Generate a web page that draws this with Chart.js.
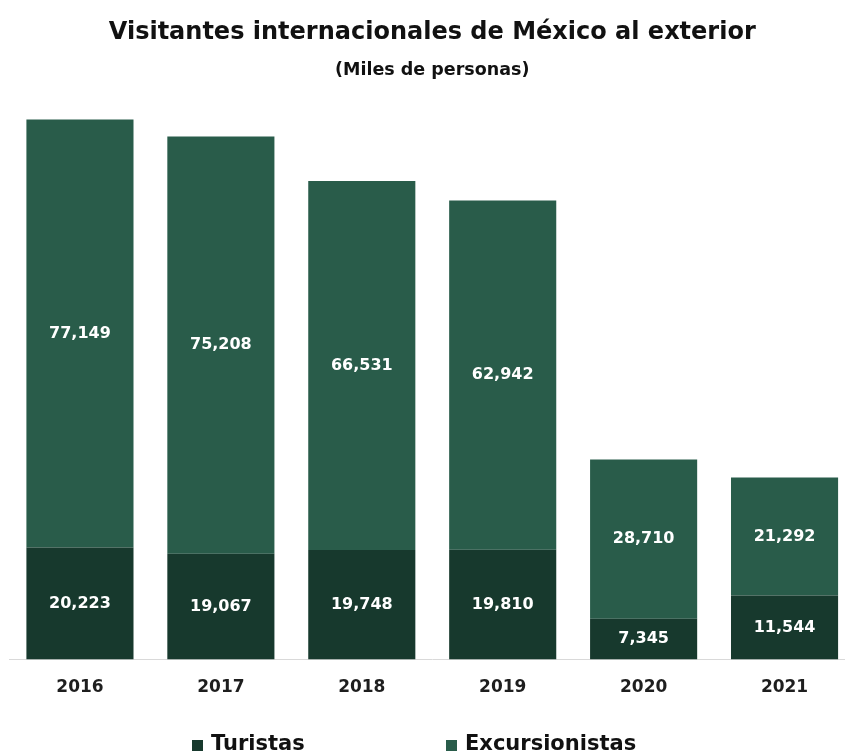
<!DOCTYPE html>
<html>
<head>
<meta charset="utf-8">
<script src="https://cdn.jsdelivr.net/npm/chart.js@4.4.1/dist/chart.umd.min.js"></script>
<style>
  html, body { margin: 0; padding: 0; background: #fff; overflow: hidden; }
  #wrap { width: 860px; height: 753px; position: relative; }
</style>
</head>
<body>
<div id="wrap"><canvas id="visitantesChart"></canvas></div>
<script>
const years = ['2016', '2017', '2018', '2019', '2020', '2021'];
const turistas = [20223, 19067, 19748, 19810, 7345, 11544];
const excursionistas = [77149, 75208, 66531, 62942, 28710, 21292];
const seriesNames = ['Turistas', 'Excursionistas'];
const seriesColors = ['#17392d', '#295c4a'];

const FONT = "'DejaVu Sans', sans-serif";

// white numbers in the middle of every segment
const segmentLabels = {
  id: 'segmentLabels',
  afterDatasetsDraw(chart) {
    const ctx = chart.ctx;
    ctx.save();
    ctx.fillStyle = '#ffffff';
    ctx.font = `700 16px ${FONT}`;
    ctx.textAlign = 'center';
    ctx.textBaseline = 'middle';
    chart.data.datasets.forEach((ds, i) => {
      chart.getDatasetMeta(i).data.forEach((bar, j) => {
        const v = ds.data[j];
        const mid = (bar.y + bar.base) / 2;
        ctx.fillText(v.toLocaleString('en-US'), bar.x, mid);
      });
    });
    ctx.restore();
  }
};

// legend with wide spacing between the two entries
const wideLegend = {
  id: 'wideLegend',
  afterDraw(chart) {
    const ctx = chart.ctx;
    const xs = [192, 446];
    const y = 745;
    ctx.save();
    ctx.font = `700 21px ${FONT}`;
    ctx.textBaseline = 'middle';
    ctx.textAlign = 'left';
    chart.data.datasets.forEach((ds, i) => {
      ctx.fillStyle = ds.backgroundColor;
      ctx.fillRect(xs[i], y - 5, 11, 11);
      ctx.fillStyle = '#111111';
      ctx.fillText(ds.label, xs[i] + 19, y);
    });
    ctx.restore();
  }
};

new Chart(document.getElementById('visitantesChart'), {
  type: 'bar',
  data: {
    labels: years,
    datasets: [
      { label: seriesNames[0], data: turistas, backgroundColor: seriesColors[0] },
      { label: seriesNames[1], data: excursionistas, backgroundColor: seriesColors[1] }
    ]
  },
  options: {
    responsive: true,
    maintainAspectRatio: false,
    animation: false,
    barPercentage: 0.76,
    categoryPercentage: 1,
    layout: { padding: { left: 9.5, right: 5, bottom: 37 } },
    scales: {
      x: {
        stacked: true,
        grid: { display: false, drawTicks: false },
        border: { display: true, color: '#d9d9d9', width: 1 },
        ticks: { color: '#1e1e1e', padding: 18, font: { family: FONT, size: 17, weight: '700' } }
      },
      y: {
        stacked: true,
        display: false,
        min: 0,
        max: 100000
      }
    },
    plugins: {
      legend: { display: false },
      tooltip: { enabled: false },
      title: {
        display: true,
        text: 'Visitantes internacionales de México al exterior',
        color: '#111111',
        font: { family: FONT, size: 24, weight: '700' },
        padding: { top: 18, bottom: 13 }
      },
      subtitle: {
        display: true,
        text: '(Miles de personas)',
        color: '#111111',
        font: { family: FONT, size: 17.5, weight: '700' },
        padding: { top: 0, bottom: 24 }
      }
    }
  },
  plugins: [segmentLabels, wideLegend]
});
</script>
</body>
</html>
